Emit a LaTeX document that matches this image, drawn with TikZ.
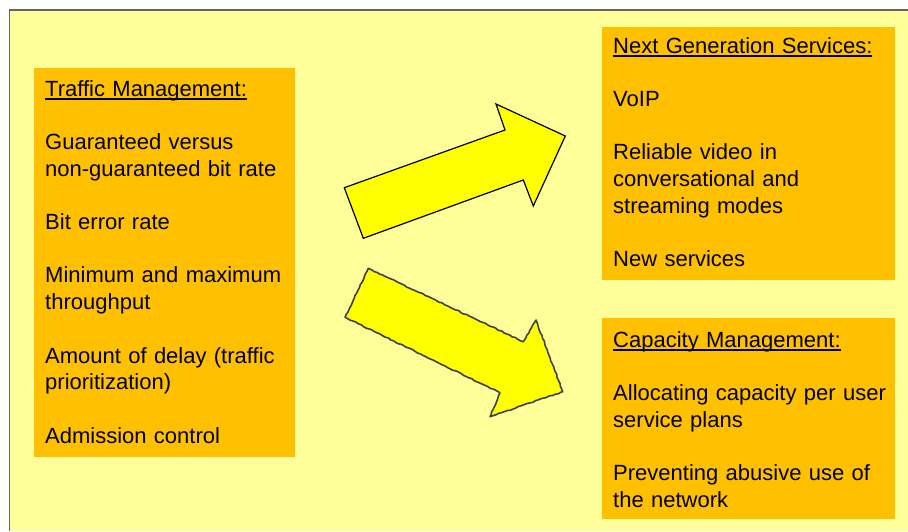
\documentclass[tikz,border=0pt]{standalone}
\usepackage{fontspec}
\setmainfont{Liberation Sans}
\usetikzlibrary{calc,positioning,decorations.pathmorphing}
\definecolor{paleyellow}{HTML}{FFFF99}
\definecolor{boxorange}{HTML}{FFC000}
\definecolor{arrowyellow}{HTML}{FFFF00}
\newcommand{\heading}[1]{\setbox0\hbox{#1}\rlap{\rule[-3.5pt]{\wd0}{1.6pt}}\box0}
\newcommand{\gap}{\\[26.7pt]}
\tikzset{
	listbox/.style={fill=boxorange,draw=none,inner sep=0pt,outer sep=0pt,anchor=north west},
	listtext/.style={anchor=base west,align=left,inner sep=0pt,font=\fontsize{22}{26.7}\selectfont},
	bigarrow/.style={fill=arrowyellow,draw=black,line width=1.2pt,line join=miter}
}

\begin{document}
\begin{tikzpicture}[x=1pt,y=-1pt]
		\pgfmathsetseed{7}
		\useasboundingbox (0,0) rectangle (908,531);
		\fill[paleyellow] (9.5,10) rectangle (908,531);
		\draw[black!60,line width=1.3pt] (9.5,531) -- (9.5,10) -- (908,10);
		% boxes
		\node(traffic) [listbox,minimum width=261pt,minimum height=389pt] at (34,68) {};
		\node(ngs) [listbox,minimum width=293pt,minimum height=253pt] at (602,27) {};
		\node(capacity) [listbox,anchor=north,minimum width=293pt,minimum height=201pt,below=38pt of ngs] {};
		% texts
		\node(traffictext) [listtext,text width=255pt] at ($(traffic.north west)+(11,28)$)
			{\heading{Traffic Management:}\gap
			 Guaranteed versus\\ non-guaranteed bit rate\gap
			 Bit error rate\gap
			 Minimum and maximum\\ throughput\gap
			 Amount of delay (traffic\\ prioritization)\gap
			 Admission control};
		\node(ngstext) [listtext,text width=285pt] at ($(ngs.north west)+(11,26)$)
			{\heading{Next Generation Services:}\gap
			 VoIP\gap
			 Reliable video in\\ conversational and\\ streaming modes\gap
			 New services};
		\node(capacitytext) [listtext,text width=285pt] at ($(capacity.north west)+(11,29)$)
			{\heading{Capacity Management:}\gap
			 Allocating capacity per user\\ service plans\gap
			 Preventing abusive use of\\ the network};
		% arrows
		\draw[bigarrow] (344.3,187.7) -- (363.3,238.3) -- (523.3,180) -- (533.3,206)
			-- (565.3,136) -- (496,104) -- (505,130) -- cycle;
		\draw[bigarrow,draw=black!75,line width=1.6pt,line join=round,
			decorate,decoration={random steps,segment length=3pt,amplitude=0.5pt}]
			(368.3,268.3) -- (345,317.3) -- (500,392.7) -- (490,416.7)
			-- (562.7,391.7) -- (536,320) -- (523.3,341.7) -- cycle;
	\end{tikzpicture}
\end{document}
